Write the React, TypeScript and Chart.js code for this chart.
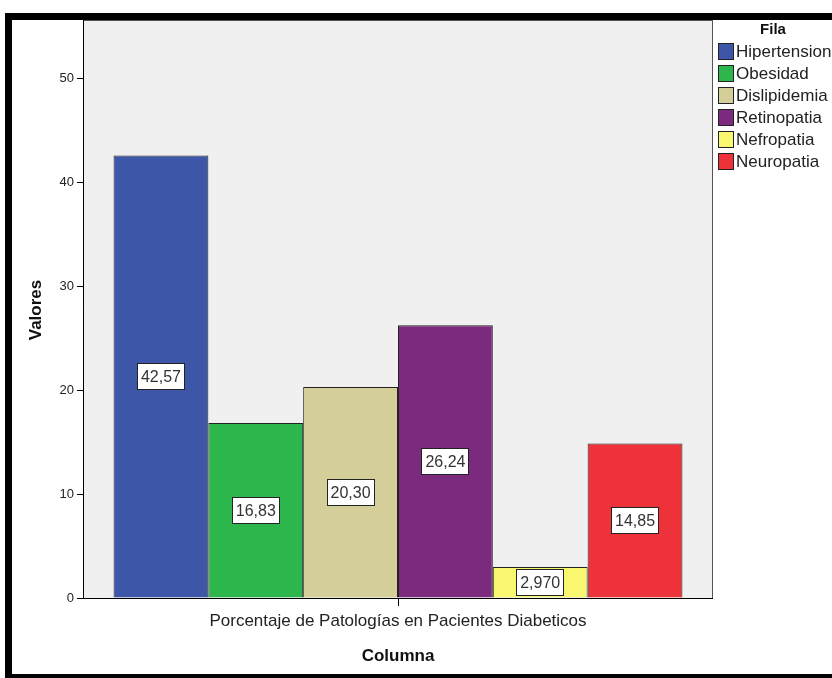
import React, { useEffect, useRef } from "react";
import { Chart, registerables } from "chart.js";

Chart.register(...registerables);

const categories = ["Porcentaje de Patologías en Pacientes Diabeticos"];
const seriesNames = ["Hipertension", "Obesidad", "Dislipidemia", "Retinopatia", "Nefropatia", "Neuropatia"];
const seriesValues = [42.57, 16.83, 20.3, 26.24, 2.97, 14.85];
const valueLabels = ["42,57", "16,83", "20,30", "26,24", "2,970", "14,85"];
const seriesColors = ["#3d56a8", "#2db64b", "#d4cf99", "#7b2a7d", "#f9f76f", "#ee3239"];
const yTicks = [0, 10, 20, 30, 40, 50];
const yMax = 55.6;
const legendTitle = "Fila";
const xTitle = "Columna";
const yTitle = "Valores";

const ARIAL = "Arial, 'Liberation Sans', sans-serif";

const framePlugin = {
  id: "framePlugin",
  beforeDraw(chart: any) {
    const { ctx, chartArea } = chart;
    ctx.save();
    ctx.fillStyle = "#ffffff";
    ctx.fillRect(0, 0, chart.width, chart.height);
    ctx.fillStyle = "#f0f0f0";
    ctx.fillRect(chartArea.left, chartArea.top, chartArea.right - chartArea.left, chartArea.bottom - chartArea.top);
    ctx.restore();
  },
  afterDraw(chart: any) {
    const { ctx, chartArea } = chart;
    ctx.save();
    // plot border
    ctx.strokeStyle = "#555555";
    ctx.lineWidth = 1;
    ctx.strokeRect(chartArea.left + 0.5, chartArea.top + 0.5, chartArea.right - chartArea.left - 1, chartArea.bottom - chartArea.top);
    ctx.strokeStyle = "#000000";
    ctx.beginPath();
    ctx.moveTo(chartArea.left + 0.5, chartArea.top);
    ctx.lineTo(chartArea.left + 0.5, chartArea.bottom + 0.5);
    ctx.lineTo(chartArea.right, chartArea.bottom + 0.5);
    ctx.stroke();

    // value labels
    ctx.font = "16px " + ARIAL;
    ctx.textAlign = "center";
    ctx.textBaseline = "middle";
    chart.data.datasets.forEach((ds: any, i: number) => {
      const meta = chart.getDatasetMeta(i);
      meta.data.forEach((bar: any) => {
        const cx = bar.x;
        const cy = (bar.y + bar.base) / 2;
        const w = 48, h = 27;
        ctx.fillStyle = "#ffffff";
        ctx.fillRect(Math.round(cx - w / 2), Math.round(cy - h / 2), w, h);
        ctx.strokeStyle = "#222222";
        ctx.lineWidth = 1;
        ctx.strokeRect(Math.round(cx - w / 2) + 0.5, Math.round(cy - h / 2) + 0.5, w - 1, h - 1);
        ctx.fillStyle = "#333333";
        ctx.fillText(valueLabels[i], cx, cy + 1);
      });
    });

    // axis titles
    ctx.fillStyle = "#111111";
    ctx.font = "bold 17px " + ARIAL;
    ctx.textAlign = "center";
    ctx.textBaseline = "middle";
    ctx.fillText(xTitle, (chartArea.left + chartArea.right) / 2, 656);
    ctx.save();
    ctx.translate(36, 310);
    ctx.rotate(-Math.PI / 2);
    ctx.fillText(yTitle, 0, 0);
    ctx.restore();

    // legend
    ctx.font = "bold 15px " + ARIAL;
    ctx.textAlign = "center";
    ctx.fillStyle = "#111111";
    ctx.fillText(legendTitle, 773, 30);
    ctx.font = "17px " + ARIAL;
    ctx.textAlign = "left";
    seriesNames.forEach((name, i) => {
      const y = 51 + i * 22;
      ctx.fillStyle = seriesColors[i];
      ctx.fillRect(718, y - 8, 16, 17);
      ctx.strokeStyle = "#222222";
      ctx.strokeRect(718.5, y - 7.5, 15, 16);
      ctx.fillStyle = "#222222";
      ctx.fillText(name, 736, y + 1);
    });

    // outer black frame
    ctx.fillStyle = "#000000";
    ctx.fillRect(5, 13, chart.width - 5, 7);
    ctx.fillRect(5, 13, 7, chart.height - 13);
    ctx.fillRect(5, 674, chart.width - 5, 4);
    ctx.restore();
  },
};

export default function App() {
  const ref = useRef<HTMLCanvasElement>(null);
  useEffect(() => {
    document.body.style.margin = "0";
    const canvas = ref.current!;
    const chart = new Chart(canvas, {
      type: "bar",
      data: {
        labels: categories,
        datasets: seriesNames.map((name, i) => ({
          label: name,
          data: [seriesValues[i]],
          backgroundColor: seriesColors[i],
          borderColor: "#222222",
          borderWidth: 1,
        })),
      },
      options: {
        responsive: false,
        animation: false,
        layout: { padding: { left: 0, right: 119, top: 20, bottom: 0 } },
        datasets: { bar: { categoryPercentage: 0.903, barPercentage: 1 } },
        plugins: {
          legend: { display: false },
          tooltip: { enabled: false },
        },
        scales: {
          x: {
            offset: true,
            grid: { display: true, offset: false, drawOnChartArea: false, tickLength: 8, tickColor: "#000000" },
            border: { display: false },
            ticks: {
              color: "#222222",
              font: { family: ARIAL, size: 17 },
              padding: 5,
            },
            afterFit(scale: any) {
              scale.height = 80;
            },
          },
          y: {
            min: 0,
            max: yMax,
            afterBuildTicks(scale: any) {
              scale.ticks = yTicks.map((v) => ({ value: v }));
            },
            grid: { display: true, drawOnChartArea: false, tickLength: 6, tickColor: "#000000" },
            border: { display: false },
            ticks: {
              color: "#222222",
              font: { family: ARIAL, size: 13 },
              padding: 3,
            },
            afterFit(scale: any) {
              scale.width = 83;
            },
          },
        },
      },
      plugins: [framePlugin],
    } as any);
    return () => chart.destroy();
  }, []);
  return <canvas ref={ref} width={832} height={678} style={{ display: "block" }} />;
}
